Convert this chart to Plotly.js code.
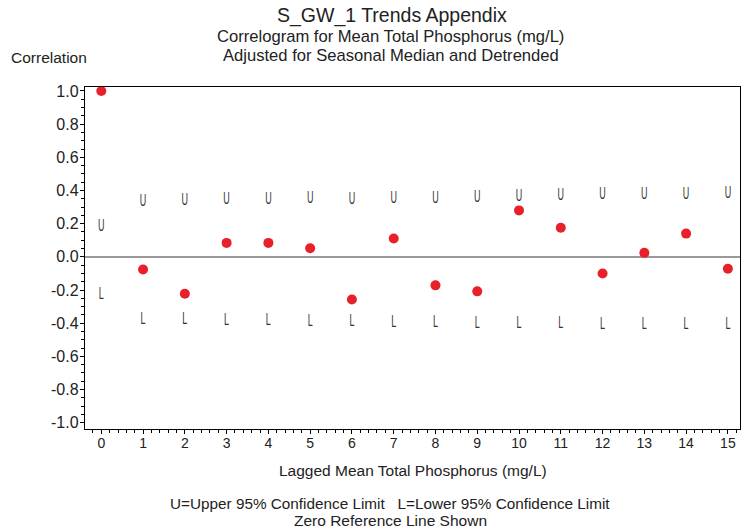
<!DOCTYPE html>
<html>
<head>
<meta charset="utf-8">
<script src="https://cdn.plot.ly/plotly-3.0.1.min.js"></script>
<style>html,body{margin:0;padding:0;background:#fff;}#chart{width:755px;height:531px;}</style>
</head>
<body>
<div id="chart"></div>
<script>
const lags = [0,1,2,3,4,5,6,7,8,9,10,11,12,13,14,15];
const correlation = [1.0, -0.076, -0.223, 0.084, 0.084, 0.052, -0.257, 0.111, -0.172, -0.208, 0.28, 0.175, -0.10, 0.024, 0.14, -0.072];
const upper95 = [0.18, 0.331, 0.333, 0.34, 0.34, 0.345, 0.342, 0.348, 0.35, 0.352, 0.36, 0.365, 0.37, 0.372, 0.372, 0.375];
const lower95 = [-0.23, -0.38, -0.383, -0.39, -0.39, -0.393, -0.397, -0.40, -0.40, -0.405, -0.405, -0.408, -0.41, -0.41, -0.41, -0.41];
const yTickVals = [-1.0,-0.8,-0.6,-0.4,-0.2,0.0,0.2,0.4,0.6,0.8,1.0];
const yTickText = ['-1.0','-0.8','-0.6','-0.4','-0.2','0.0','0.2','0.4','0.6','0.8','1.0'];
const xTickText = lags.map(String);

const font = 'Arial, "Liberation Sans", sans-serif';

const traces = [
  {x: lags, y: upper95, mode: 'text', text: lags.map(() => 'U'), textposition: 'middle center',
   textfont: {family: font, size: 15, color: '#333'}, hoverinfo: 'skip', showlegend: false, cliponaxis: false},
  {x: lags, y: lower95, mode: 'text', text: lags.map(() => 'L'), textposition: 'middle center',
   textfont: {family: font, size: 15, color: '#333'}, hoverinfo: 'skip', showlegend: false, cliponaxis: false},
  {x: lags, y: correlation, mode: 'markers', marker: {color: '#e8202a', size: 10}, showlegend: false, cliponaxis: false}
];

const layout = {
  width: 755, height: 531,
  margin: {l: 85, r: 15, t: 87, b: 102},
  paper_bgcolor: '#fff', plot_bgcolor: '#fff',
  font: {family: font, size: 15.5, color: '#222'},
  showlegend: false,
  xaxis: {
    range: [-0.39, 15.29], tickvals: lags, ticktext: xTickText,
    ticks: 'outside', ticklen: 4, tickwidth: 1, tickcolor: '#000', ticklabelstandoff: -3,
    showline: true, linecolor: '#000', linewidth: 1.2, mirror: true,
    showgrid: false, zeroline: false,
    minor: {dtick: 0.2, ticks: 'outside', ticklen: 3, tickcolor: '#000', showgrid: false},
    tickfont: {size: 14, color: '#222'}
  },
  yaxis: {
    range: [-1.038, 1.024], tickvals: yTickVals, ticktext: yTickText,
    ticks: 'outside', ticklen: 4, tickwidth: 1, tickcolor: '#000', ticklabelstandoff: -2,
    showline: true, linecolor: '#000', linewidth: 1.2, mirror: true,
    showgrid: false, zeroline: true, zerolinecolor: '#999', zerolinewidth: 1.8,
    minor: {dtick: 0.05, ticks: 'outside', ticklen: 3, tickcolor: '#000', showgrid: false},
    tickfont: {size: 16, color: '#222'}
  },
  annotations: [
    {text: 'S_GW_1 Trends Appendix', xref: 'paper', yref: 'paper', x: 0.468, y: 1.2105, xanchor: 'center', yanchor: 'middle', showarrow: false, font: {size: 19.5}},
    {text: 'Correlogram for Mean Total Phosphorus (mg/L)', xref: 'paper', yref: 'paper', x: 0.467, y: 1.1477, xanchor: 'center', yanchor: 'middle', showarrow: false, font: {size: 16.6}},
    {text: 'Adjusted for Seasonal Median and Detrended', xref: 'paper', yref: 'paper', x: 0.467, y: 1.0918, xanchor: 'center', yanchor: 'middle', showarrow: false, font: {size: 16.6}},
    {text: 'Correlation', xref: 'paper', yref: 'paper', x: -0.116, y: 1.0848, xanchor: 'left', yanchor: 'middle', showarrow: false, font: {size: 15.5}},
    {text: 'Lagged Mean Total Phosphorus (mg/L)', xref: 'paper', yref: 'paper', x: 0.5015, y: -0.1228, xanchor: 'center', yanchor: 'middle', showarrow: false, font: {size: 15.5}},
    {text: 'U=Upper 95% Confidence Limit   L=Lower 95% Confidence Limit', xref: 'paper', yref: 'paper', x: 0.466, y: -0.2164, xanchor: 'center', yanchor: 'middle', showarrow: false, font: {size: 15.3}},
    {text: 'Zero Reference Line Shown', xref: 'paper', yref: 'paper', x: 0.466, y: -0.269, xanchor: 'center', yanchor: 'middle', showarrow: false, font: {size: 15.5}}
  ]
};

Plotly.newPlot('chart', traces, layout, {staticPlot: true, displayModeBar: false}).then(function (gd) {
  // condense the U / L limit letters to match the narrow glyphs of the original
  gd.querySelectorAll('.scatterlayer .textpoint text').forEach(function (t) {
    const x = parseFloat(t.getAttribute('x')) || 0;
    const y = parseFloat(t.getAttribute('y')) || 0;
    t.setAttribute('transform', 'translate(' + x + ',' + y + ') scale(0.6,1.1) translate(' + (-x) + ',' + (-y) + ')');
  });
});
</script>
</body>
</html>
